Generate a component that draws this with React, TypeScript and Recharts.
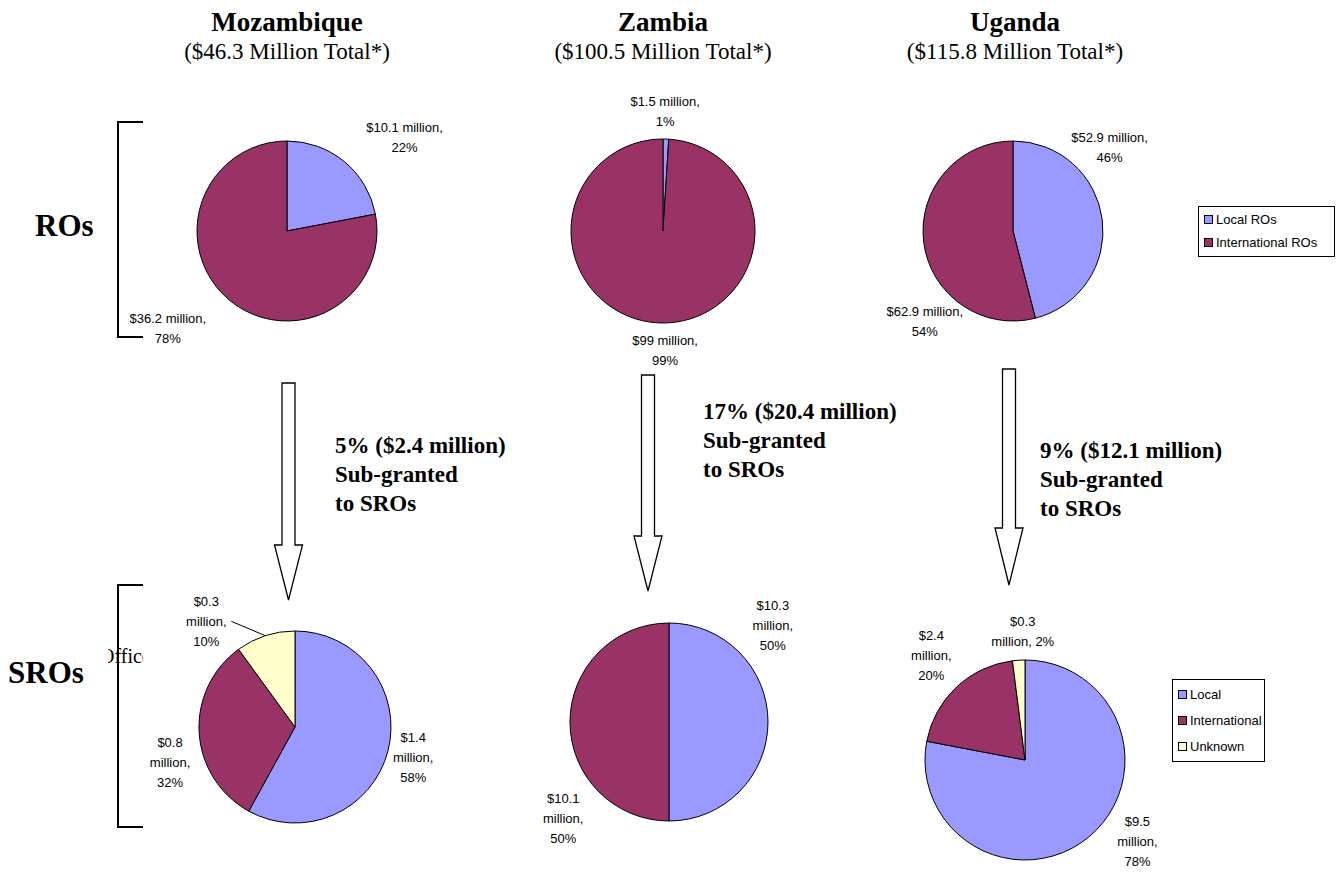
import React from "react";
import { PieChart, Pie, Cell } from "recharts";

// ---- data ----
const COUNTRIES = ["Mozambique", "Zambia", "Uganda"];
const TOTALS = [46.3, 100.5, 115.8];
const SUBGRANT_PCT = [5, 17, 9];
const SUBGRANT_AMT = [2.4, 20.4, 12.1];

const RO_NAMES = ["Local ROs", "International ROs"];
const SRO_NAMES = ["Local", "International", "Unknown"];

const MOZ_RO_AMT = [10.1, 36.2];
const MOZ_RO_PCT = [22, 78];
const ZAM_RO_AMT = [1.5, 99];
const ZAM_RO_PCT = [1, 99];
const UGA_RO_AMT = [52.9, 62.9];
const UGA_RO_PCT = [46, 54];

const MOZ_SRO_AMT = [1.4, 0.8, 0.3];
const MOZ_SRO_PCT = [58, 32, 10];
const ZAM_SRO_AMT = [10.3, 10.1];
const ZAM_SRO_PCT = [50, 50];
const UGA_SRO_AMT = [9.5, 2.4, 0.3];
const UGA_SRO_PCT = [78, 20, 2];

const LOCAL = "#9999FF";
const INTL = "#993366";
const UNKNOWN = "#FFFFCC";
const COLORS = [LOCAL, INTL, UNKNOWN];

const SERIF = '"Liberation Serif", "Times New Roman", serif';
const SANS = '"Liberation Sans", Arial, sans-serif';

// ---- layout ----
const PIES = [
  { names: RO_NAMES, amt: MOZ_RO_AMT, pct: MOZ_RO_PCT, cx: 287, cy: 231, r: 90 },
  { names: RO_NAMES, amt: ZAM_RO_AMT, pct: ZAM_RO_PCT, cx: 663, cy: 231, r: 92 },
  { names: RO_NAMES, amt: UGA_RO_AMT, pct: UGA_RO_PCT, cx: 1013, cy: 231, r: 90 },
  { names: SRO_NAMES, amt: MOZ_SRO_AMT, pct: MOZ_SRO_PCT, cx: 295, cy: 727, r: 96 },
  { names: SRO_NAMES, amt: ZAM_SRO_AMT, pct: ZAM_SRO_PCT, cx: 669, cy: 722, r: 99 },
  { names: SRO_NAMES, amt: UGA_SRO_AMT, pct: UGA_SRO_PCT, cx: 1025, cy: 760, r: 100 },
];

// label placement: angle clockwise from 12 o'clock, distance from pie centre
type LabelPos = { angle: number; dist: number; wrap: "two" | "three" | "mix"; leader?: boolean };
const LABEL_POS: LabelPos[][] = [
  [{ angle: 51.6, dist: 150, wrap: "two" }, { angle: 230.7, dist: 154, wrap: "two" }],
  [{ angle: 1, dist: 120, wrap: "two" }, { angle: 179, dist: 120, wrap: "two" }],
  [{ angle: 49, dist: 128, wrap: "two" }, { angle: 224.4, dist: 126, wrap: "two" }],
  [
    { angle: 104.3, dist: 122, wrap: "three" },
    { angle: 254, dist: 130, wrap: "three" },
    { angle: 320, dist: 138, wrap: "three", leader: true },
  ],
  [{ angle: 47, dist: 142, wrap: "three" }, { angle: 227.7, dist: 143, wrap: "three" }],
  [
    { angle: 126, dist: 139, wrap: "three" },
    { angle: 318, dist: 140, wrap: "three" },
    { angle: 359, dist: 129, wrap: "mix" },
  ],
];

const RAD = Math.PI / 180;

function labelLines(wrap: string, a: number, p: number) {
  if (wrap === "two") return [`$${a} million,`, `${p}%`];
  if (wrap === "mix") return [`$${a}`, `million, ${p}%`];
  return [`$${a}`, "million,", `${p}%`];
}

function makeLabel(pieIdx: number) {
  return (props: any) => {
    const pie = PIES[pieIdx];
    const i = props.index;
    const pos = LABEL_POS[pieIdx][i];
    const lines = labelLines(pos.wrap, pie.amt[i], pie.pct[i]);
    const x = pie.cx + pos.dist * Math.sin(pos.angle * RAD);
    const y = pie.cy - pos.dist * Math.cos(pos.angle * RAD);
    const lh = 20;
    const y0 = y - ((lines.length - 1) * lh) / 2;
    let leader = null;
    if (pos.leader) {
      const m = props.midAngle;
      const ex = pie.cx + pie.r * Math.cos(-m * RAD);
      const ey = pie.cy + pie.r * Math.sin(-m * RAD);
      leader = <line x1={x + 25} y1={y} x2={ex} y2={ey} stroke="#000" strokeWidth={1} />;
    }
    return (
      <g>
        {leader}
        <text textAnchor="middle" fontFamily={SANS} fontSize={13} fill="#000">
          {lines.map((l, k) => (
            <tspan key={k} x={x} y={y0 + k * lh} dominantBaseline="central">
              {l}
            </tspan>
          ))}
        </text>
      </g>
    );
  };
}

// hollow block arrows between the rows
const ARROWS = [
  { x: 288.5, top: 383, head: 545, tip: 600 },
  { x: 648, top: 375, head: 536, tip: 591 },
  { x: 1009, top: 369, head: 528, tip: 585 },
];
const SUB_TEXT = [
  { x: 335, y: 446 },
  { x: 703, y: 412 },
  { x: 1040, y: 451 },
];
const TITLE_X = [287, 663, 1015];

function arrowPoints(a: { x: number; top: number; head: number; tip: number }) {
  const s = 6.5;
  const h = 14;
  return [
    [a.x - s, a.top],
    [a.x + s, a.top],
    [a.x + s, a.head],
    [a.x + h, a.head],
    [a.x, a.tip],
    [a.x - h, a.head],
    [a.x - s, a.head],
  ]
    .map((p) => p.join(","))
    .join(" ");
}

function LegendBox({ left, top, width, names, rowGap }: { left: number; top: number; width: number; names: string[]; rowGap: number }) {
  return (
    <div
      style={{
        position: "absolute",
        left,
        top,
        width,
        border: "1px solid #000",
        background: "#fff",
        padding: "1px 0 2px 5px",
        boxSizing: "border-box",
        fontFamily: SANS,
        fontSize: 13,
      }}
    >
      {names.map((n, i) => (
        <div key={n} style={{ display: "flex", alignItems: "center", height: rowGap, whiteSpace: "nowrap" }}>
          <span
            style={{
              display: "inline-block",
              width: 7,
              height: 7,
              border: "1px solid #000",
              background: COLORS[i],
              marginRight: 3,
            }}
          />
          {n}
        </div>
      ))}
    </div>
  );
}

export default function App() {
  return (
    <div style={{ position: "absolute", left: 0, top: 0, width: 1344, height: 872, background: "#fff", overflow: "hidden" }}>
      {/* titles */}
      {COUNTRIES.map((c, i) => (
        <div
          key={c}
          style={{ position: "absolute", left: TITLE_X[i] - 200, top: 6, width: 400, textAlign: "center", fontFamily: SERIF, color: "#000" }}
        >
          <div style={{ fontWeight: "bold", fontSize: 27, lineHeight: "32px" }}>{c}</div>
          <div style={{ fontSize: 23, lineHeight: "28px" }}>(${TOTALS[i]} Million Total*)</div>
        </div>
      ))}

      {/* row labels */}
      <div style={{ position: "absolute", left: 35, top: 208, fontFamily: SERIF, fontWeight: "bold", fontSize: 31 }}>ROs</div>
      <div style={{ position: "absolute", left: 8, top: 655, fontFamily: SERIF, fontWeight: "bold", fontSize: 31 }}>SROs</div>
      <div style={{ position: "absolute", left: 108, top: 645, width: 35, overflow: "hidden", fontFamily: SERIF, fontSize: 20 }}>
        <span style={{ marginLeft: -8, whiteSpace: "nowrap" }}>Office</span>
      </div>

      {/* sub-grant notes */}
      {SUB_TEXT.map((t, i) => (
        <div
          key={i}
          style={{
            position: "absolute",
            left: t.x,
            top: t.y - 15,
            fontFamily: SERIF,
            fontWeight: "bold",
            fontSize: 23,
            lineHeight: "29px",
            whiteSpace: "nowrap",
          }}
        >
          <div>
            {SUBGRANT_PCT[i]}% (${SUBGRANT_AMT[i]} million)
          </div>
          <div>Sub-granted</div>
          <div>to SROs</div>
        </div>
      ))}

      {/* brackets and arrows */}
      <svg width={1344} height={872} style={{ position: "absolute", left: 0, top: 0 }}>
        <polyline points="143,122 118,122 118,337 143,337" fill="none" stroke="#000" strokeWidth={2} />
        <polyline points="143,585 118,585 118,827 143,827" fill="none" stroke="#000" strokeWidth={2} />
        {ARROWS.map((a, i) => (
          <polygon key={i} points={arrowPoints(a)} fill="#fff" stroke="#000" strokeWidth={1.3} />
        ))}
      </svg>

      {/* pies */}
      <div style={{ position: "absolute", left: 0, top: 0 }}>
        <PieChart width={1344} height={872} margin={{ top: 0, right: 0, bottom: 0, left: 0 }}>
          {PIES.map((p, pi) => (
            <Pie
              key={pi}
              data={p.names.slice(0, p.pct.length).map((n, k) => ({ name: n, value: p.pct[k] }))}
              dataKey="value"
              nameKey="name"
              cx={p.cx}
              cy={p.cy}
              outerRadius={p.r}
              startAngle={90}
              endAngle={-270}
              stroke="#000"
              strokeWidth={1}
              label={makeLabel(pi)}
              labelLine={false}
              isAnimationActive={false}
            >
              {p.pct.map((_, k) => (
                <Cell key={k} fill={COLORS[k]} />
              ))}
            </Pie>
          ))}
        </PieChart>
      </div>

      <LegendBox left={1198} top={206} width={137} names={RO_NAMES} rowGap={23} />
      <LegendBox left={1172} top={679} width={93} names={SRO_NAMES} rowGap={26} />
    </div>
  );
}
